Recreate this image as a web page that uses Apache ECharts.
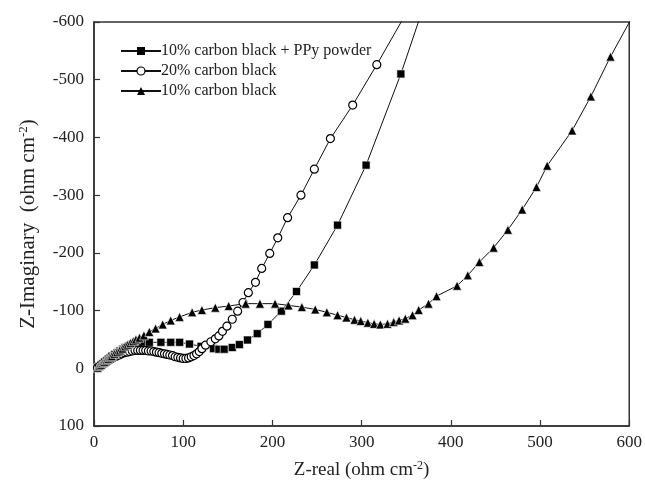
<!DOCTYPE html>
<html>
<head>
<meta charset="utf-8">
<script src="https://cdn.jsdelivr.net/npm/echarts@6/dist/echarts.min.js"></script>
<style>html,body{margin:0;padding:0;background:#fff}#c{width:645px;height:485px}</style>
</head>
<body>
<div id="c"></div>
<script>
// 10% carbon black + PPy powder (squares): [Z-real, Z-imaginary]
var ppyData = [[4,-1],[6,-3],[8,-6],[10,-8],[12,-11],[14,-13],[16,-16],[18,-18],[20,-21],[23,-24],[26,-27],[29,-30],[32,-33],[35,-36],[39,-39],[43,-42],[48,-44],[54,-45],[62,-45],[75,-45],[86,-45],[96,-45],[107,-42],[120,-38],[134,-34],[140,-33],[146,-33],[155,-36],[163,-41],[172,-49],[183,-60],[195,-76],[210,-99],[227,-133],[247,-179],[273,-248],[305,-352],[344,-510],[368,-620]];
// 20% carbon black (open circles)
var cb20Data = [[4,-1],[6,-3],[8,-5],[10,-7],[12,-9],[14,-11],[16,-13],[18,-15],[20,-17],[22,-19],[25,-21],[28,-23],[31,-25],[34,-27],[37,-28],[40,-29],[43,-30],[46,-31],[49,-31],[52,-31],[55,-31],[58,-31],[61,-30],[64,-30],[67,-29],[70,-28],[73,-27],[76,-26],[79,-25],[82,-24],[85,-23],[88,-22],[91,-20],[94,-19],[97,-18],[100,-17],[103,-17],[106,-18],[109,-20],[112,-22],[115,-25],[118,-29],[121,-34],[125,-40],[131,-46],[136,-51],[140,-56],[144,-64],[149,-73],[155,-85],[161,-99],[167,-114],[173,-131],[181,-149],[188,-173],[197,-199],[206,-226],[217,-261],[232,-300],[247,-345],[265,-398],[290,-456],[317,-526],[348,-610]];
// 10% carbon black (triangles)
var cb10Data = [[4,-1],[6,-4],[8,-6],[10,-9],[12,-11],[14,-14],[16,-16],[18,-19],[20,-21],[23,-25],[26,-28],[29,-31],[32,-34],[35,-38],[38,-41],[41,-44],[44,-47],[47,-50],[51,-53],[56,-57],[62,-63],[69,-69],[77,-76],[86,-83],[96,-89],[110,-97],[121,-101],[136,-105],[151,-108],[170,-112],[186,-112],[203,-112],[218,-109],[233,-106],[248,-102],[261,-97],[273,-92],[283,-88],[292,-84],[299,-82],[307,-79],[314,-77],[321,-76],[329,-77],[336,-80],[342,-83],[349,-86],[357,-92],[364,-101],[375,-112],[384,-125],[407,-143],[419,-161],[432,-184],[448,-209],[464,-240],[480,-275],[496,-314],[508,-351],[536,-412],[557,-471],[579,-540],[602,-605]];
var seriesNames = ['10% carbon black + PPy powder', '20% carbon black', '10% carbon black'];
var xTicks = {min: 0, max: 600, interval: 100};
var yTicks = {min: -600, max: 100, interval: 100};

var font = '"Liberation Serif", "Times New Roman", serif';
var chart = echarts.init(document.getElementById('c'), null, {renderer: 'canvas'});
var axisCommon = {
  axisLine: {show: true, onZero: false, lineStyle: {color: '#333', width: 1.5}},
  axisTick: {show: true, inside: true, length: 6, lineStyle: {color: '#333', width: 1.2}},
  splitLine: {show: false},
  axisLabel: {color: '#222', fontFamily: font, fontSize: 17},
  nameTextStyle: {color: '#222', fontFamily: font, fontSize: 19}
};
var legendItem = function (name, symbol, fill) {
  return {name: name, itemStyle: {color: fill, borderColor: '#000', borderWidth: fill === '#fff' ? 1.2 : 0}};
};
chart.setOption({
  animation: false,
  backgroundColor: '#fff',
  grid: {left: 94, right: 12, top: 22, bottom: 57, show: true, borderColor: '#333', borderWidth: 1.5, backgroundColor: 'transparent'},
  legend: {
    orient: 'vertical', left: 115, top: 38, itemWidth: 40, itemHeight: 10, itemGap: 4,
    textStyle: {fontFamily: font, fontSize: 16, color: '#222', padding: [0,0,0,-5]},
    data: [legendItem(seriesNames[0], 'rect', '#000'), legendItem(seriesNames[1], 'circle', '#fff'), legendItem(seriesNames[2], 'triangle', '#000')]
  },
  xAxis: Object.assign({}, axisCommon, {
    type: 'value', min: xTicks.min, max: xTicks.max, interval: xTicks.interval,
    axisLabel: Object.assign({}, axisCommon.axisLabel, {margin: 8}),
    name: '{t|Z-real (ohm cm}{s|-2}{t|)}', nameLocation: 'middle', nameGap: 34,
    nameTextStyle: {rich: {t: {fontFamily: font, fontSize: 19, color: '#222'}, s: {fontFamily: font, fontSize: 12, color: '#222', padding: [0,0,9,0]}}}
  }),
  yAxis: Object.assign({}, axisCommon, {
    type: 'value', min: yTicks.min, max: yTicks.max, interval: yTicks.interval, inverse: true,
    axisLabel: Object.assign({}, axisCommon.axisLabel, {margin: 10}),
    name: '{t|Z-Imaginary  (ohm cm}{s|-2}{t|)}', nameLocation: 'middle', nameGap: 54, nameRotate: 90,
    nameTextStyle: {rich: {t: {fontFamily: font, fontSize: 21, color: '#222'}, s: {fontFamily: font, fontSize: 13, color: '#222', padding: [0,0,10,0]}}}
  }),
  series: [
    {name: seriesNames[0], type: 'line', data: ppyData, symbol: 'rect', symbolSize: 8, clip: true,
     lineStyle: {color: '#111', width: 1}, itemStyle: {color: '#000', borderColor: '#fff', borderWidth: 0.6}},
    {name: seriesNames[1], type: 'line', data: cb20Data, symbol: 'circle', symbolSize: 8, clip: true,
     lineStyle: {color: '#111', width: 1}, itemStyle: {color: '#fff', borderColor: '#000', borderWidth: 1.2}},
    {name: seriesNames[2], type: 'line', data: cb10Data, symbol: 'triangle', symbolSize: 9, clip: true,
     lineStyle: {color: '#111', width: 1}, itemStyle: {color: '#000', borderColor: '#fff', borderWidth: 0.6}}
  ]
});
</script>
</body>
</html>
